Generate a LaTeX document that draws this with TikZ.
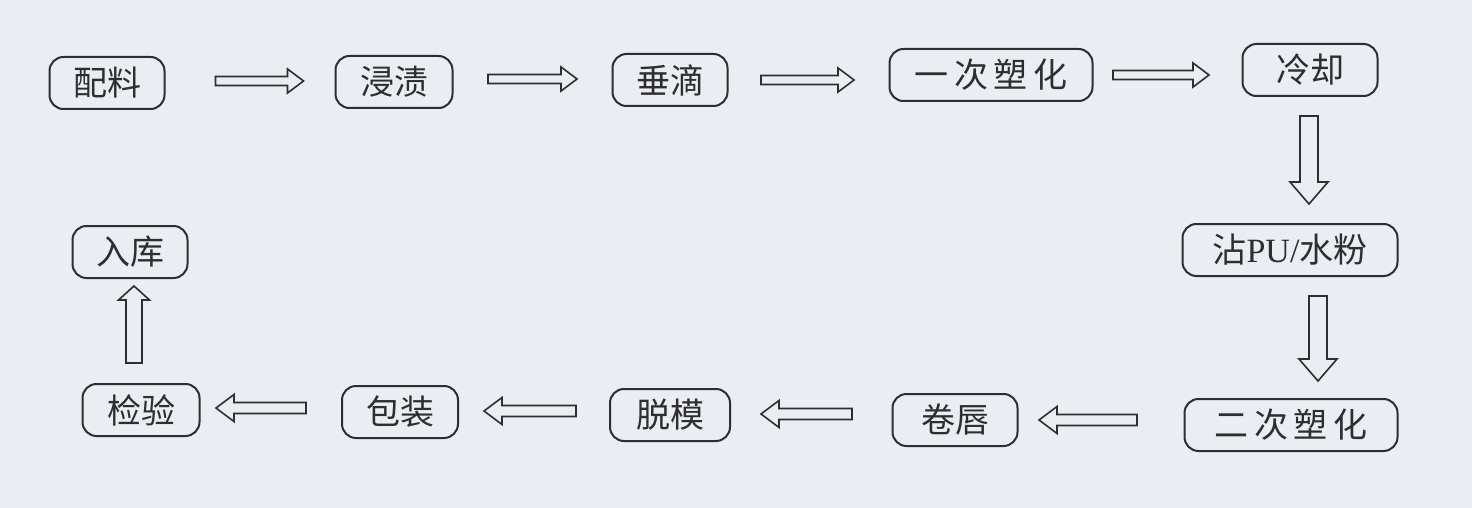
\documentclass[tikz,border=0pt]{standalone}
\usepackage{fontspec}
\setmainfont{Liberation Serif}
\newfontfamily\cjk{Noto Sans CJK SC}
\usetikzlibrary{calc}
\definecolor{paper}{RGB}{234,237,241}
\definecolor{ink}{RGB}{45,45,50}
\begin{document}
\begin{tikzpicture}[x=1pt,y=-1pt,
  box/.style={draw=ink, line width=2pt, rounded corners=14pt, inner sep=0pt,
    minimum height=52pt, text=ink, font=\cjk\fontsize{34}{34}\selectfont},
  ba/.style={shift={(\p1)},rotate=\n1},
  blk/.style n args={3}{draw=ink, line width=1.6pt, fill=paper, line join=miter,
    to path={let \p1=(\tikztostart), \p2=(\tikztotarget),
      \n1={atan2(\y2-\y1,\x2-\x1)}, \n2={veclen(\x2-\x1,\y2-\y1)} in
      ([ba]0pt,#1) -- ([ba]{\n2*1pt-#3},#1) -- ([ba]{\n2*1pt-#3},#2) --
      ([ba]{\n2*1pt},0pt) -- ([ba]{\n2*1pt-#3},-#2) -- ([ba]{\n2*1pt-#3},-#1) --
      ([ba]0pt,-#1) -- cycle}},
  harr/.style={blk={4.5pt}{12pt}{16pt}},
  larr/.style={blk={5.5pt}{13.5pt}{18pt}},
  varr/.style={blk={9pt}{19pt}{22pt}},
  uarr/.style={blk={8pt}{15.5pt}{14pt}}]
\fill[paper] (0,0) rectangle (1472,508);
\useasboundingbox (0,0) rectangle (1472,508);
% nodes
\node[box, minimum width=115pt] (peiliao) at (107,83) {配料};
\node[box, minimum width=117pt] (jinzi) at (394,82) {浸渍};
\node[box, minimum width=115pt] (chuidi) at (670,80) {垂滴};
\node[box, minimum width=203pt] (suhua1) at (991,75) {一\,次\,塑\,化};
\node[box, minimum width=135pt] (lengque) at (1310,70) {冷却};
\node[box, minimum width=215pt] (zhan) at (1290,250) {沾{\rmfamily PU/}水粉};
\node[box, minimum width=213pt] (suhua2) at (1291,425) {二\,次\,塑\,化};
\node[box, minimum width=125pt] (juanchun) at (955,420) {卷唇};
\node[box, minimum width=120pt] (tuomo) at (670,415) {脱模};
\node[box, minimum width=116pt] (baozhuang) at (400,412) {包装};
\node[box, minimum width=117pt] (jianyan) at (141,410) {检验};
\node[box, minimum width=115pt] (ruku) at (130,252) {入库};
% connectors
\draw[harr] ($(peiliao.east)+(50,-2)$) to ($(jinzi.west)+(-31,-1)$);
\draw[harr] ($(jinzi.east)+(34.5,-3)$) to ($(chuidi.west)+(-34.5,-1)$);
\draw[harr] ($(chuidi.east)+(32.5,0)$) to ($(suhua1.west)+(-34.5,5)$);
\draw[harr] ($(suhua1.east)+(19.5,0)$) to ($(lengque.west)+(-32.5,5)$);
\draw[varr] ($(lengque.south)+(-1,19)$) to ($(zhan.north)+(19,-19)$);
\draw[varr] ($(zhan.south)+(28,19)$) to ($(suhua2.north)+(27,-17)$);
\draw[larr] ($(suhua2.west)+(-46.5,-5)$) to ($(juanchun.east)+(20.5,0)$);
\draw[larr] ($(juanchun.west)+(-39.5,-6)$) to ($(tuomo.east)+(30,-1)$);
\draw[larr] ($(tuomo.west)+(-33,-4)$) to ($(baozhuang.east)+(25,-1)$);
\draw[larr] ($(baozhuang.west)+(-35,-4)$) to ($(jianyan.east)+(15.5,-2)$);
\draw[uarr] ($(jianyan.north)+(-7,-20)$) to ($(ruku.south)+(4,7)$);
\end{tikzpicture}
\end{document}
